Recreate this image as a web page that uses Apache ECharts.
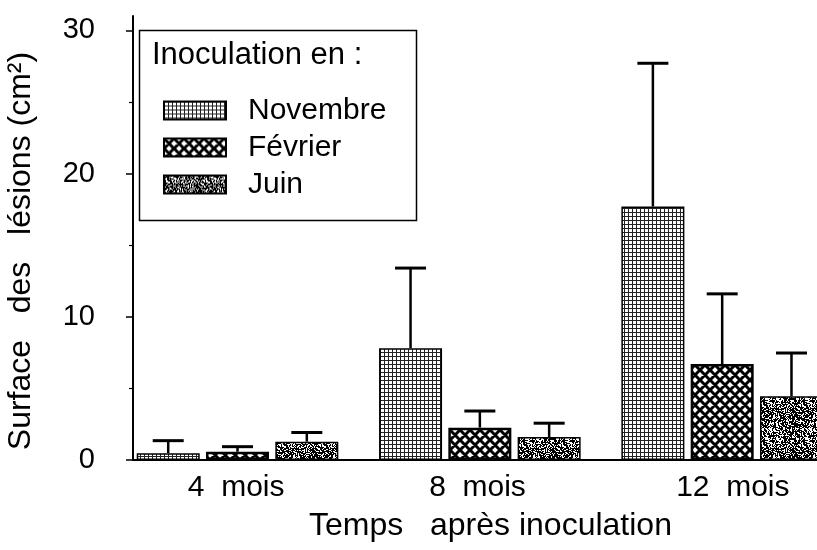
<html>
<head>
  <meta charset="utf-8">
  <title>Surface des lésions</title>
</head>

<body style="margin:0;background:#fff;">
<div id="main" style="width:817px;height:550px;"></div>
<script src="https://cdn.jsdelivr.net/npm/echarts@6/dist/echarts.min.js"></script>
<script>
  // données (moyenne + écart-type, cm²)
  var categories = ['4  mois', '8  mois', '12  mois'];
  var seriesNames = ['Novembre', 'Février', 'Juin'];
  var novembre = [0.47, 7.8, 17.7];
  var fevrier = [0.58, 2.26, 6.7];
  var juin = [1.28, 1.6, 4.45];
  var novembreSd = [0.88, 5.6, 10.0];
  var fevrierSd = [0.35, 1.16, 4.9];
  var juinSd = [0.64, 0.97, 3.02];
  var yTicks = [0, 10, 20, 30];
  var yMinorTicks = [5, 15, 25];

  var FONT = '"Liberation Sans", Arial, sans-serif';
  var BAR_W = 63, GAP = 0.1, SPACER = 27, CAP = 31;
  var labelShift = [36, 38, 12];

  function makeTile(w, h, draw) {
    var c = document.createElement('canvas');
    c.width = w; c.height = h;
    draw(c.getContext('2d'), w, h);
    return c;
  }
  // quadrillage fin
  var gridTile = makeTile(4, 4, function (g) {
    g.fillStyle = '#fff'; g.fillRect(0, 0, 4, 4);
    g.fillStyle = '#222'; g.fillRect(0, 0, 4, 1); g.fillRect(0, 0, 1, 4);
  });
  // croisillons (losanges blancs)
  var diamondTile = makeTile(10, 10, function (g) {
    g.fillStyle = '#fff'; g.fillRect(0, 0, 10, 10);
    g.strokeStyle = '#000'; g.lineWidth = 3;
    g.beginPath();
    for (var c = -10; c <= 10; c += 10) { g.moveTo(-2, -2 + c); g.lineTo(12, 12 + c); }
    for (var d = 0; d <= 20; d += 10) { g.moveTo(-2, d + 2); g.lineTo(12, d - 12); }
    g.stroke();
  });
  // pointillé sombre (bruit déterministe)
  var stippleTile = makeTile(40, 40, function (g, w, h) {
    var img = g.createImageData(w, h);
    for (var i = 0; i < w * h; i++) {
      var k = Math.imul(i + 17, 2654435761) >>> 0;
      k = Math.imul(k ^ (k >>> 15), 2246822519) >>> 0;
      k = (k ^ (k >>> 13)) >>> 0;
      var v = (k % 1000) < 620 ? 0 : 255;
      img.data[i * 4] = v; img.data[i * 4 + 1] = v; img.data[i * 4 + 2] = v; img.data[i * 4 + 3] = 255;
    }
    g.putImageData(img, 0, 0);
  });

  var patterns = [gridTile, diamondTile, stippleTile];
  var borders = [1.5, 2.5, 1.5];
  var means = [novembre, fevrier, juin];
  var sds = [novembreSd, fevrierSd, juinSd];

  function barCenterOffset(idx) {
    var sum = 3 * BAR_W * (1 + GAP) + SPACER;
    return -sum / 2 + idx * BAR_W * (1 + GAP) + BAR_W / 2;
  }

  var series = [];
  seriesNames.forEach(function (name, idx) {
    series.push({
      type: 'bar',
      name: name,
      data: means[idx],
      barWidth: BAR_W,
      barGap: '10%',
      itemStyle: {
        color: {image: patterns[idx], repeat: 'repeat'},
        borderColor: '#000',
        borderWidth: borders[idx]
      }
    });
  });
  // espace vide à droite de chaque groupe
  series.push({
    type: 'bar', name: 'spacer', data: [0, 0, 0], barWidth: SPACER, barGap: '10%',
    silent: true, itemStyle: {color: 'rgba(0,0,0,0)', borderWidth: 0}
  });
  seriesNames.forEach(function (name, idx) {
    series.push({
      type: 'custom',
      name: name + ' sd',
      z: 5,
      silent: true,
      data: means[idx].map(function (m, i) { return [i, m, m + sds[idx][i]]; }),
      encode: {x: 0, y: [1, 2]},
      renderItem: function (params, api) {
        var base = api.coord([api.value(0), api.value(1)]);
        var top = api.coord([api.value(0), api.value(2)]);
        var x = base[0] + barCenterOffset(idx);
        return {
          type: 'group',
          children: [
            {type: 'line', shape: {x1: x, y1: base[1], x2: x, y2: top[1]}, style: {stroke: '#000', lineWidth: 2.5}},
            {type: 'line', shape: {x1: x - CAP / 2, y1: top[1], x2: x + CAP / 2, y2: top[1]}, style: {stroke: '#000', lineWidth: 3}}
          ]
        };
      }
    });
  });

  var myChart = echarts.init(document.getElementById('main'));
  myChart.setOption({
    animation: false,
    backgroundColor: '#fff',
    textStyle: {fontFamily: FONT, color: '#000'},
    grid: {left: 133, top: 16, width: 727, height: 444, outerBoundsMode: 'none', containLabel: false},
    legend: {
      data: seriesNames,
      orient: 'vertical',
      left: 163,
      top: 95.5,
      padding: 0,
      icon: 'rect',
      itemWidth: 62,
      itemHeight: 18,
      itemGap: 7,
      selectedMode: false,
      z: 10,
      textStyle: {fontFamily: FONT, fontSize: 30, color: '#000', lineHeight: 30, padding: [0, 0, 0, 17]}
    },
    graphic: [
      {type: 'rect', z: 3, shape: {x: 139.5, y: 30.5, width: 277, height: 190},
        style: {fill: '#fff', stroke: '#000', lineWidth: 1.5}},
      {type: 'text', z: 4, x: 152, y: 55,
        style: {text: 'Inoculation en :', font: '31px ' + FONT, fill: '#000', textVerticalAlign: 'middle'}}
    ],
    xAxis: [{
      type: 'category',
      data: categories.map(function (c, i) {
        return {value: c, textStyle: {padding: [0, labelShift[i], 0, 0]}};
      }),
      axisLine: {lineStyle: {color: '#000', width: 2}},
      axisTick: {show: false},
      axisLabel: {fontFamily: FONT, fontSize: 30, lineHeight: 30, color: '#000', margin: 13},
      name: 'Temps   après inoculation',
      nameLocation: 'middle',
      nameGap: 50,
      nameTextStyle: {fontFamily: FONT, fontSize: 32, color: '#000', padding: [0, 12, 0, 0]}
    }, {
      type: 'category',
      position: 'top',
      data: categories,
      axisLine: {lineStyle: {color: '#000', width: 1.2}},
      axisTick: {show: false},
      axisLabel: {show: false}
    }],
    yAxis: [{
      type: 'value',
      min: 0,
      max: 31,
      interval: 10,
      axisLine: {show: true, lineStyle: {color: '#000', width: 2}},
      axisTick: {show: true, length: 7, customValues: yTicks, lineStyle: {color: '#000', width: 1.5}},
      axisLabel: {customValues: yTicks, fontFamily: FONT, fontSize: 29, color: '#000', margin: 38},
      splitLine: {show: false},
      name: 'Surface   des   lésions (cm²)',
      nameLocation: 'middle',
      nameRotate: 90,
      nameGap: 96,
      nameTextStyle: {fontFamily: FONT, fontSize: 32, color: '#000', padding: [0, 26, 0, 0]}
    }, {
      type: 'value',
      position: 'left',
      min: 0,
      max: 31,
      interval: 5,
      axisLine: {show: false},
      axisTick: {show: true, length: 4, customValues: yMinorTicks, lineStyle: {color: '#000', width: 1.2}},
      axisLabel: {show: false},
      splitLine: {show: false}
    }],
    series: series
  });
</script>

</body>
</html>
